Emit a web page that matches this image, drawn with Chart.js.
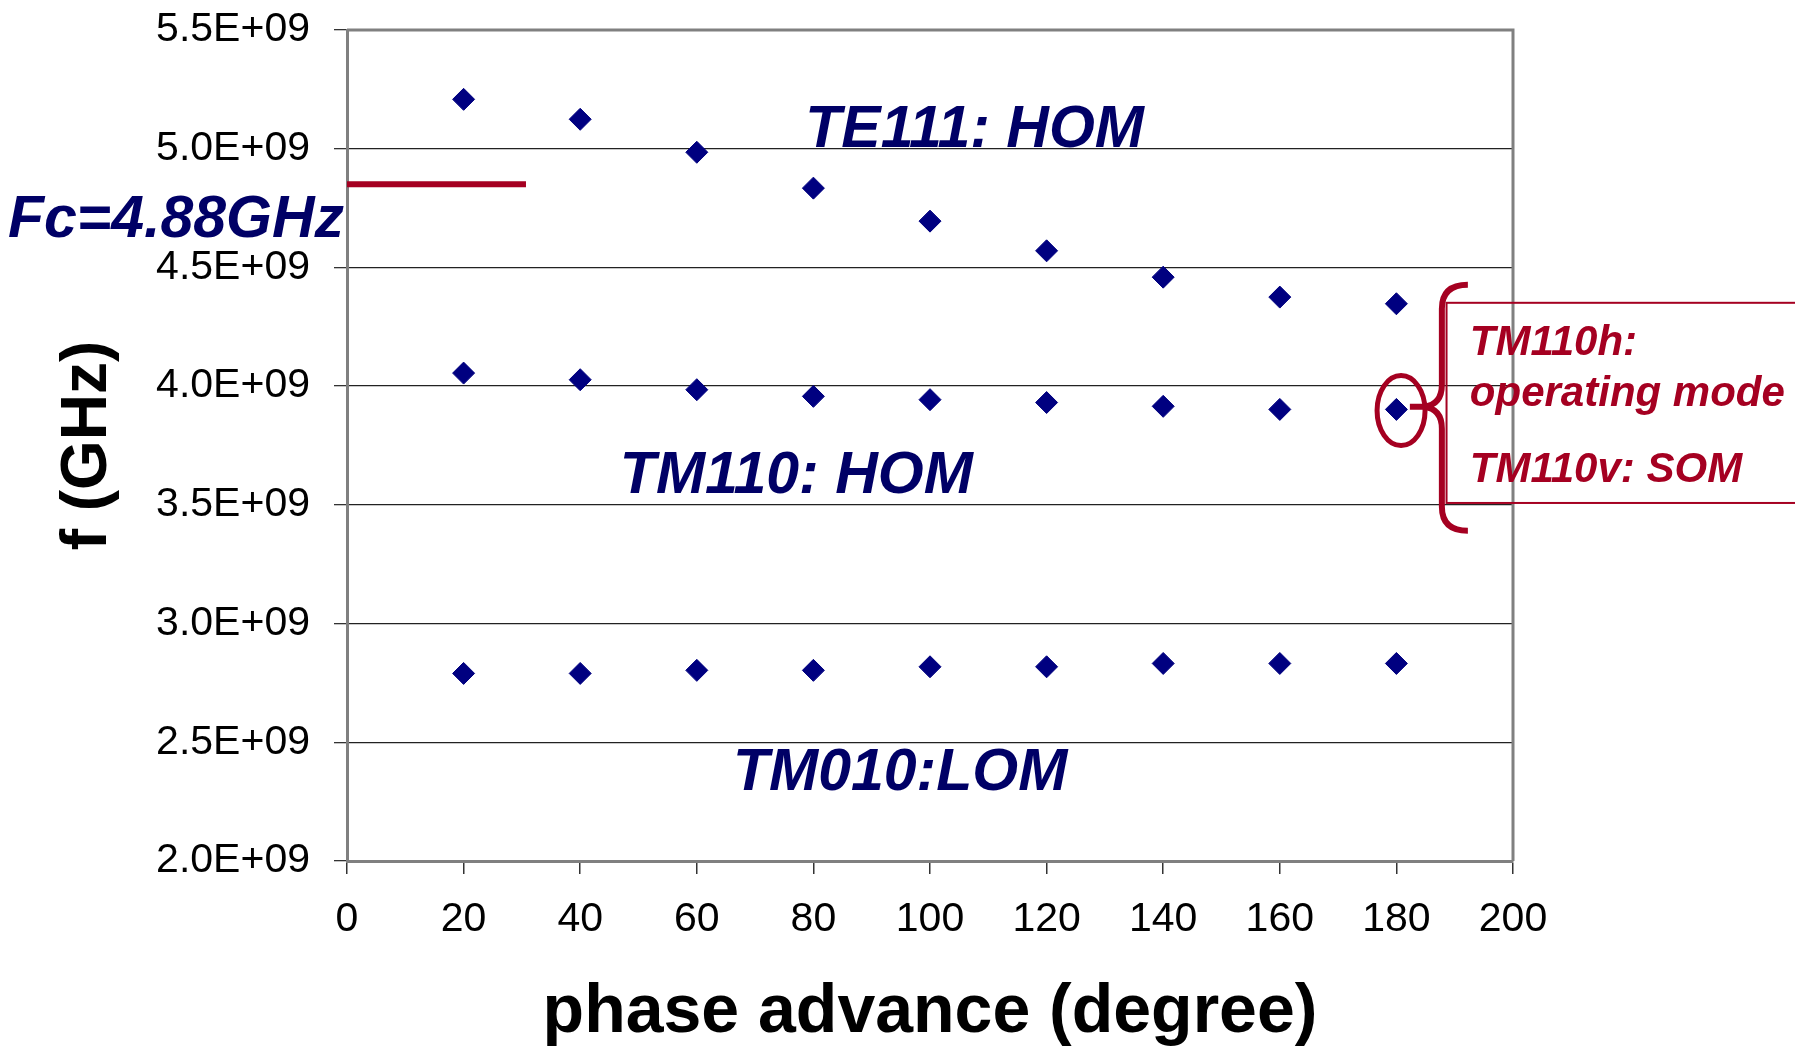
<!DOCTYPE html>
<html>
<head>
<meta charset="utf-8">
<script src="https://cdn.jsdelivr.net/npm/chart.js@4.4.0/dist/chart.umd.min.js"></script>
<style>
  html, body { margin: 0; padding: 0; background: #fff; }
  #wrap { width: 1795px; height: 1049px; }
</style>
</head>
<body>
<div id="wrap"><canvas id="chart" width="1795" height="1049"></canvas></div>
<script>
// datos
const phaseAdvance = [20, 40, 60, 80, 100, 120, 140, 160, 180];
const te111Hz = [5.208e9, 5.124e9, 4.985e9, 4.834e9, 4.695e9, 4.570e9, 4.459e9, 4.375e9, 4.347e9];
const tm110Hz = [4.055e9, 4.027e9, 3.985e9, 3.957e9, 3.943e9, 3.931e9, 3.915e9, 3.902e9, 3.902e9];
const tm010Hz = [2.790e9, 2.790e9, 2.803e9, 2.803e9, 2.818e9, 2.818e9, 2.832e9, 2.832e9, 2.832e9];
const fcLineX = [0, 30.7];
const fcLineY = [4.85e9, 4.85e9];
const yTickLabels = ['2.0E+09', '2.5E+09', '3.0E+09', '3.5E+09', '4.0E+09', '4.5E+09', '5.0E+09', '5.5E+09'];
const xTickLabels = ['0', '20', '40', '60', '80', '100', '120', '140', '160', '180', '200'];

const NAVY = '#000080';
const TEXT_NAVY = '#000066';
const RED = '#a50021';
const FONT = "'Liberation Sans', Arial, sans-serif";

const toPoints = (xs, ys) => xs.map((x, i) => ({ x: x, y: ys[i] }));

// textos, cajas y llave dibujados encima
const annotations = {
    id: 'annotations',
    beforeDatasetsDraw(chart) {
        const { ctx, chartArea: a } = chart;
        ctx.save();
        ctx.strokeStyle = '#808080';
        ctx.lineWidth = 3;
        ctx.beginPath();
        ctx.moveTo(a.left, a.top);
        ctx.lineTo(a.right, a.top);
        ctx.lineTo(a.right, a.bottom);
        ctx.stroke();
        ctx.restore();
    },
    afterDraw(chart) {
        const { ctx } = chart;
        const xs = chart.scales.x, ys = chart.scales.y;
        const px = v => xs.getPixelForValue(v);
        const py = v => ys.getPixelForValue(v);

        ctx.save();
        ctx.textBaseline = 'alphabetic';

        // etiquetas de modos
        ctx.fillStyle = TEXT_NAVY;
        ctx.font = `italic bold 59px ${FONT}`;
        ctx.textAlign = 'left';
        ctx.fillText('TE111: HOM', px(78.6), py(5.006e9));
        ctx.fillText('TM110: HOM', px(46.8), py(3.550e9));
        ctx.fillText('TM010:LOM', px(66.2), py(2.298e9));
        ctx.textAlign = 'right';
        ctx.fillText('Fc=4.88GHz', px(-0.5), py(4.630e9));

        // caja roja
        ctx.strokeStyle = RED;
        ctx.lineWidth = 2;
        const boxL = px(188.6), boxT = py(4.351e9), boxB = py(3.508e9);
        ctx.strokeRect(boxL, boxT, chart.width + 10 - boxL, boxB - boxT);

        ctx.fillStyle = RED;
        ctx.font = `italic bold 42px ${FONT}`;
        ctx.textAlign = 'left';
        ctx.fillText('TM110h:', px(192.6), py(4.132e9));
        ctx.fillText('operating mode', px(192.6), py(3.915e9));
        ctx.fillText('TM110v: SOM', px(192.6), py(3.595e9));

        // elipse alrededor del modo de operacion
        ctx.lineWidth = 5;
        ctx.beginPath();
        ctx.ellipse(px(180.8), py(3.897e9), 24, 35, 0, 0, Math.PI * 2);
        ctx.stroke();

        // llave
        const bx = px(187.8), cy = py(3.913e9);
        ctx.lineWidth = 6;
        ctx.lineJoin = 'round';
        ctx.lineCap = 'butt';
        ctx.beginPath();
        ctx.moveTo(bx + 26, cy - 122);
        ctx.quadraticCurveTo(bx, cy - 122, bx, cy - 98);
        ctx.lineTo(bx, cy - 22);
        ctx.quadraticCurveTo(bx, cy - 2, bx - 18, cy);
        ctx.lineTo(bx - 32, cy);
        ctx.moveTo(bx - 18, cy);
        ctx.quadraticCurveTo(bx, cy + 2, bx, cy + 22);
        ctx.lineTo(bx, cy + 100);
        ctx.quadraticCurveTo(bx, cy + 124, bx + 26, cy + 124);
        ctx.stroke();
        ctx.restore();
    }
};

const markerStyle = {
    showLine: false,
    pointStyle: 'rectRot',
    pointRadius: 11,
    pointHoverRadius: 11,
    pointBackgroundColor: NAVY,
    pointBorderColor: NAVY,
    pointBorderWidth: 1
};

const ctx = document.getElementById('chart').getContext('2d');
const chart = new Chart(ctx, {
    type: 'scatter',
    data: {
        datasets: [
            Object.assign({ label: 'TE111', data: toPoints(phaseAdvance, te111Hz) }, markerStyle),
            Object.assign({ label: 'TM110', data: toPoints(phaseAdvance, tm110Hz) }, markerStyle),
            Object.assign({ label: 'TM010', data: toPoints(phaseAdvance, tm010Hz) }, markerStyle),
            {
                label: 'Fc',
                data: toPoints(fcLineX, fcLineY),
                showLine: true,
                borderColor: RED,
                borderWidth: 6,
                pointRadius: 0,
                clip: false
            }
        ]
    },
    options: {
        responsive: false,
        animation: false,
        layout: { padding: { left: 0, top: 30, right: 282, bottom: 0 } },
        plugins: {
            legend: { display: false },
            tooltip: { enabled: false }
        },
        scales: {
            x: {
                type: 'linear',
                min: 0,
                max: 200,
                afterFit: s => { s.height = 188; },
                ticks: {
                    stepSize: 20,
                    padding: 21,
                    color: '#000',
                    font: { family: FONT, size: 41 },
                    callback: (v, i) => xTickLabels[i]
                },
                grid: {
                    drawOnChartArea: false,
                    tickLength: 13,
                    tickColor: '#333',
                    lineWidth: 1.5
                },
                border: { color: '#808080', width: 3 },
                title: {
                    display: true,
                    text: 'phase advance (degree)',
                    color: '#000',
                    font: { family: FONT, size: 68, weight: 'bold', lineHeight: 1 },
                    padding: { top: 0, bottom: 2 }
                }
            },
            y: {
                type: 'linear',
                min: 2.0e9,
                max: 5.5e9,
                afterFit: s => {
                    s.width = 347;
                    s.paddingTop = 20;
                    s.paddingBottom = 20;
                },
                ticks: {
                    stepSize: 0.5e9,
                    padding: 24,
                    color: '#000',
                    font: { family: FONT, size: 41 },
                    callback: (v, i) => yTickLabels[i]
                },
                grid: {
                    color: c => (c.tick && c.tick.value === 2.0e9) ? '#808080' : '#222',
                    lineWidth: 1.3,
                    tickLength: 13,
                    tickColor: '#333'
                },
                border: { color: '#808080', width: 3 },
                title: {
                    display: true,
                    text: 'f (GHz)',
                    color: '#000',
                    font: { family: FONT, size: 64, weight: 'bold', lineHeight: 1 },
                    padding: { top: 56, bottom: 0 }
                }
            }
        }
    },
    plugins: [annotations]
});
</script>
</body>
</html>
